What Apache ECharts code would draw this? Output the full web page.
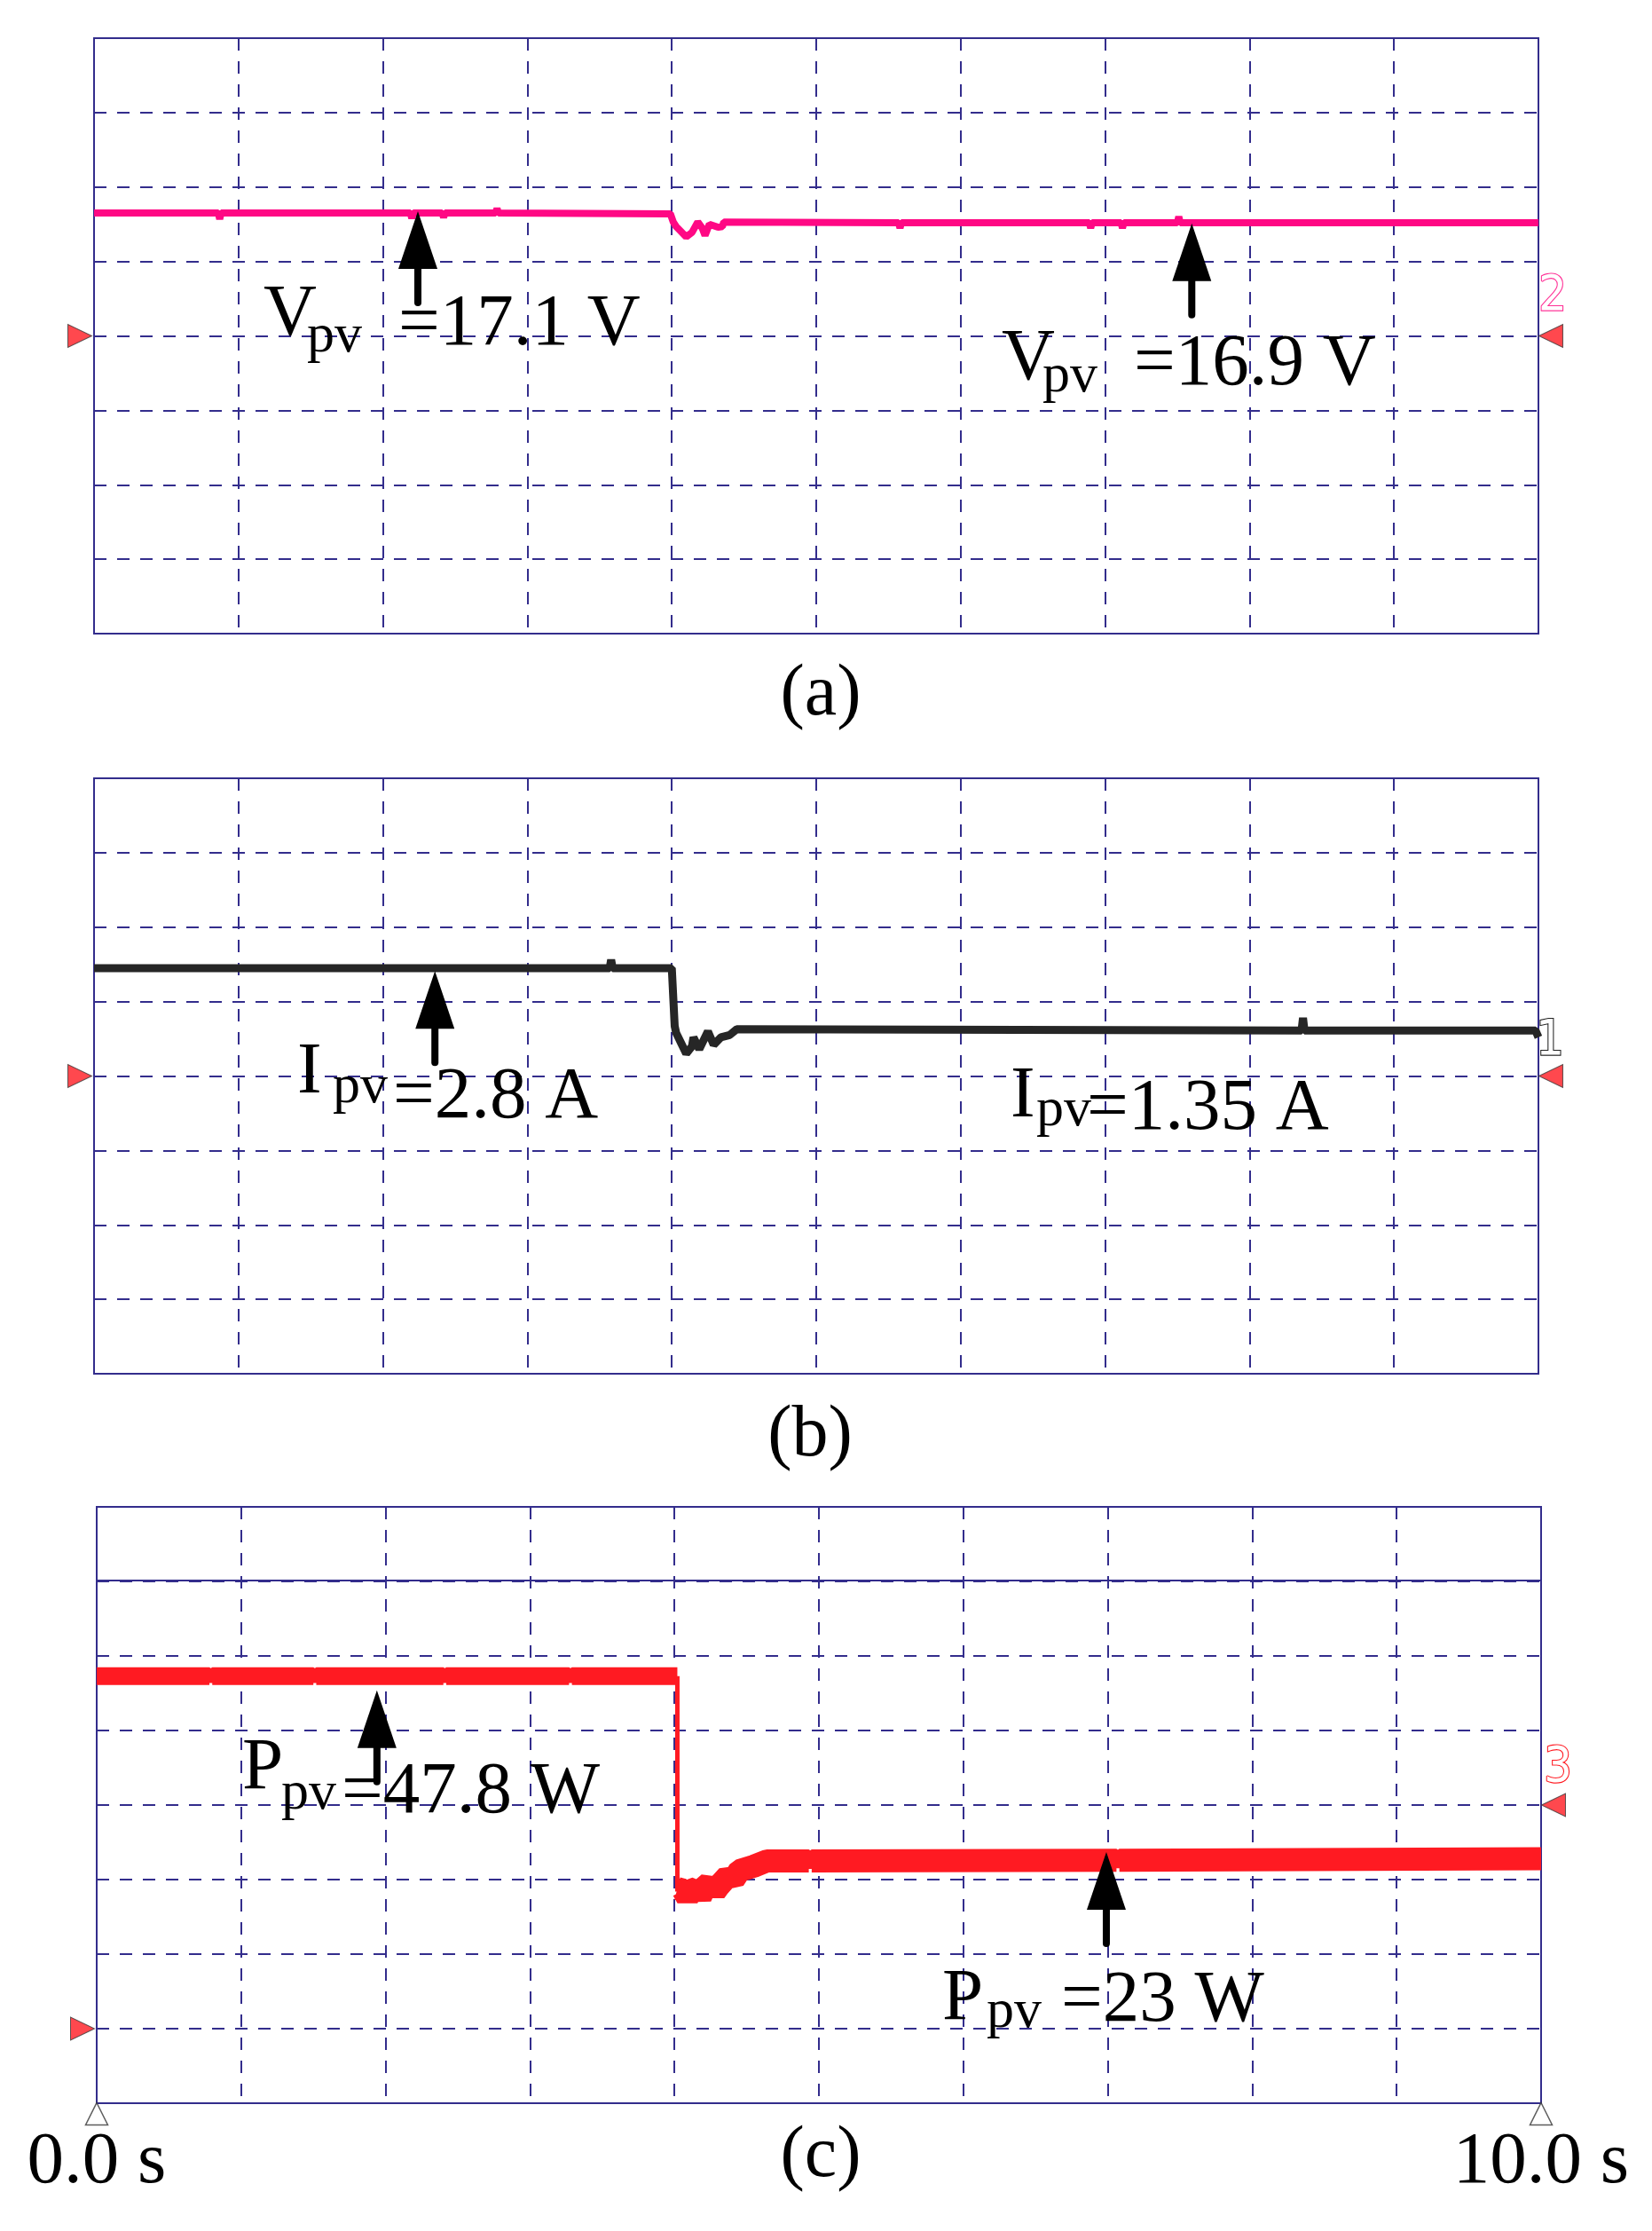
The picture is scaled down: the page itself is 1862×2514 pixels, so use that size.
<!DOCTYPE html>
<html>
<head>
    <meta charset="utf-8">
    <title>PV step response</title>
    <script src="https://cdn.jsdelivr.net/npm/echarts/dist/echarts.min.js"></script>
    <style>
        html, body { margin: 0; padding: 0; background: #fff; }
        #chart { width: 1862px; height: 2514px; }
    </style>
</head>
<body>
<div id="chart"></div>
<script type="text/javascript">
    // time axis labels (10 divisions, 1 s / div)
    var timeLabels = ['0.0 s', '10.0 s'];

    // (a) Vpv trace, time in s, level in screen divisions (0..8)
    var vTime = [0, 0.86, 0.87, 0.88, 2.19, 2.2, 2.21, 2.41, 2.42, 2.43, 2.78, 2.79, 2.8,
        3.99, 4.0, 4.01, 4.03, 4.06, 4.1, 4.14, 4.18, 4.21, 4.23, 4.26, 4.32, 4.35, 4.36,
        5.57, 5.58, 5.59, 6.89, 6.9, 6.91, 7.11, 7.12, 7.13, 7.5, 7.51, 7.52, 10];
    var vDiv = [5.65, 5.65, 5.57, 5.65, 5.65, 5.58, 5.65, 5.65, 5.59, 5.65, 5.65, 5.71, 5.65,
        5.64, 5.62, 5.53, 5.47, 5.41, 5.33, 5.39, 5.53, 5.45, 5.35, 5.5, 5.46, 5.47, 5.53,
        5.52, 5.45, 5.52, 5.52, 5.45, 5.52, 5.52, 5.45, 5.52, 5.52, 5.6, 5.52, 5.52];

    // (b) Ipv trace
    var iTime = [0, 3.57, 3.58, 3.59, 4.0, 4.01, 4.02, 4.03, 4.07, 4.1, 4.14, 4.15, 4.19,
        4.25, 4.29, 4.34, 4.4, 4.45, 8.36, 8.37, 8.38, 9.98, 10];
    var iDiv = [5.45, 5.45, 5.56, 5.45, 5.45, 5.47, 4.67, 4.58, 4.42, 4.3, 4.4, 4.52, 4.36,
        4.6, 4.42, 4.52, 4.55, 4.63, 4.61, 4.78, 4.61, 4.61, 4.52];

    // (c) Ppv trace: before the step, the step edge, after the step
    var pTimeA = [0, 0.78, 0.79, 0.8, 1.5, 1.51, 1.52, 2.4, 2.41, 2.42, 3.27, 3.28, 3.29, 4.02];
    var pDivA = [5.73, 5.73, 5.68, 5.73, 5.73, 5.68, 5.73, 5.73, 5.68, 5.73, 5.73, 5.68, 5.73, 5.73];
    var pStepTime = [4.02, 4.02];
    var pStepDiv = [5.73, 2.84];
    var pTimeB = [4.02, 4.06, 4.09, 4.12, 4.15, 4.18, 4.21, 4.24, 4.28, 4.31, 4.37, 4.41,
        4.45, 4.55, 4.64, 4.93, 4.94, 4.95, 7.06, 7.07, 7.08, 10];
    var pDivB = [2.88, 2.86, 2.76, 2.86, 2.88, 2.77, 2.9, 2.95, 2.84, 2.92, 3.05, 3.0,
        3.12, 3.18, 3.25, 3.25, 3.2, 3.25, 3.26, 3.2, 3.26, 3.28];
    var pRefLine = 7.02;

    // channel ground markers (divisions)
    var refLeft = [4, 4, 1];
    var refRight = [4, 4, 4];

    // arrow tips [time, div] per panel
    var arrows = [
        [[2.242, 5.675], [7.6, 5.51]],
        [[2.36, 5.41]],
        [[1.94, 5.54], [6.99, 3.37]]
    ];

    // annotation pieces: text, time, baseline div, font px
    var notes = [
        [['V', 1.173, 3.958, 83], ['pv', 1.474, 3.744, 62], ['=17.1 V', 2.107, 3.827, 83],
         ['V', 6.284, 3.362, 83], ['pv', 6.566, 3.207, 62], ['=16.9 V', 7.199, 3.291, 83]],
        [['I', 1.407, 3.72, 83], ['pv', 1.652, 3.601, 62], ['=2.8 A', 2.07, 3.386, 83],
         ['I', 6.345, 3.398, 83], ['pv', 6.523, 3.291, 62], ['=1.35 A', 6.873, 3.231, 83]],
        [['P', 1.007, 4.167, 83], ['pv', 1.278, 3.905, 62], ['=47.8 W', 1.695, 3.845, 83],
         ['P', 5.854, 1.071, 83], ['pv', 6.161, 0.976, 62], ['=23 W', 6.677, 1.048, 83]]
    ];
    // channel numbers beside the right marker
    var chanLabels = [['2', 10.098, 4.52, '#ff2f95'], ['1', 10.08, 4.47, '#222222'], ['3', 10.117, 4.5, '#ff1a22']];
    var captions = ['(a)', '(b)', '(c)'];

    var GRID = '#332d8c';
    var SERIF = "'Liberation Serif', 'Times New Roman', serif";
    var grids = [
        {left: 106, top: 43, width: 1628, height: 671},
        {left: 106, top: 877, width: 1628, height: 671},
        {left: 109, top: 1698, width: 1628, height: 672}
    ];

    function zip(a, b) {
        return a.map(function (t, i) { return [t, b[i]]; });
    }

    function trace(idx, data, color, width, extra) {
        var s = {
            type: 'line', xAxisIndex: idx, yAxisIndex: idx, data: data,
            showSymbol: false, symbol: 'none', silent: true, z: 3,
            lineStyle: {color: color, width: width}
        };
        for (var k in extra || {}) s[k] = extra[k];
        return s;
    }

    function arrowSeries(idx) {
        return {
            type: 'custom', xAxisIndex: idx, yAxisIndex: idx, silent: true, z: 5,
            data: arrows[idx],
            renderItem: function (params, api) {
                var p = api.coord([api.value(0), api.value(1)]);
                return {
                    type: 'group',
                    children: [
                        {type: 'line', shape: {x1: p[0], y1: p[1] + 55, x2: p[0], y2: p[1] + 103},
                            style: {stroke: '#000', lineWidth: 8, lineCap: 'round'}},
                        {type: 'polygon', shape: {points: [[p[0], p[1]], [p[0] - 22, p[1] + 65], [p[0] + 22, p[1] + 65]]},
                            style: {fill: '#000'}}
                    ]
                };
            }
        };
    }

    function noteSeries(idx) {
        var items = notes[idx];
        var ch = chanLabels[idx];
        return {
            type: 'custom', xAxisIndex: idx, yAxisIndex: idx, silent: true, z: 6,
            data: items.map(function (a) { return [a[1], a[2]]; }).concat([[ch[1], ch[2]]]),
            renderItem: function (params, api) {
                var p = api.coord([api.value(0), api.value(1)]);
                if (params.dataIndex === items.length) {
                    return {
                        type: 'text', x: p[0], y: p[1],
                        style: {
                            text: ch[0], font: "56px 'DejaVu Sans Condensed', 'DejaVu Sans', sans-serif",
                            fill: '#ffffff', stroke: ch[3], lineWidth: 2.2,
                            textAlign: 'center', textVerticalAlign: 'middle', align: 'center', verticalAlign: 'middle'
                        }
                    };
                }
                var a = items[params.dataIndex];
                return {
                    type: 'text', x: p[0], y: p[1] - 0.32 * a[3],
                    style: {
                        text: a[0], font: a[3] + 'px ' + SERIF, fill: '#000',
                        textAlign: 'left', textVerticalAlign: 'middle', align: 'left', verticalAlign: 'middle'
                    }
                };
            }
        };
    }

    function markerSeries(idx) {
        var red = {color: '#ff1a22', borderColor: '#3a3a3a', borderWidth: 1};
        var data = [
            {value: [0, refLeft[idx]], symbolRotate: -90, symbolOffset: [-16, 0], itemStyle: red},
            {value: [10, refRight[idx]], symbolRotate: 90, symbolOffset: [14, 0], itemStyle: red}
        ];
        if (idx === 2) {
            var hollow = {color: '#ffffff', borderColor: '#333333', borderWidth: 1.5};
            data.push({value: [0, 0], symbolSize: [25, 25], symbolOffset: [0, 12], itemStyle: hollow});
            data.push({value: [10, 0], symbolSize: [25, 25], symbolOffset: [0, 12], itemStyle: hollow});
        }
        return {
            type: 'scatter', xAxisIndex: idx, yAxisIndex: idx, symbol: 'triangle',
            symbolSize: [26, 27], clip: false, silent: true, z: 7, data: data
        };
    }

    var xAxes = [], yAxes = [];
    grids.forEach(function (g, i) {
        g.show = true;
        g.borderColor = GRID;
        g.borderWidth = 2;
        g.backgroundColor = 'transparent';
        xAxes.push({
            type: 'value', gridIndex: i, min: 0, max: 10, interval: 1,
            axisLine: {show: false}, axisTick: {show: false},
            axisLabel: {
                show: i === 2, margin: 26, color: '#000', fontSize: 83, fontFamily: SERIF,
                showMinLabel: true, showMaxLabel: true,
                formatter: function (v) { return v === 0 ? timeLabels[0] : (v === 10 ? timeLabels[1] : ''); }
            },
            splitLine: {show: true, lineStyle: {color: GRID, width: 2, type: [14, 12]}}
        });
        yAxes.push({
            type: 'value', gridIndex: i, min: 0, max: 8, interval: 1,
            axisLine: {show: false}, axisTick: {show: false}, axisLabel: {show: false},
            splitLine: {show: true, lineStyle: {color: GRID, width: 2, type: [14, 12]}}
        });
    });

    var series = [
        trace(0, zip(vTime, vDiv), '#ff0884', 8),
        trace(1, zip(iTime, iDiv), '#262626', 9),
        trace(2, zip(pTimeA, pDivA), '#ff1a22', 20, {
            markLine: {
                silent: true, symbol: ['none', 'none'], label: {show: false},
                lineStyle: {color: GRID, width: 2, type: 'solid'},
                data: [{yAxis: pRefLine}]
            }
        }),
        trace(2, zip(pStepTime, pStepDiv), '#ff1a22', 5),
        trace(2, zip(pTimeB, pDivB), '#ff1a22', 26)
    ];
    [0, 1, 2].forEach(function (i) {
        series.push(arrowSeries(i));
        series.push(noteSeries(i));
        series.push(markerSeries(i));
    });

    // panel captions under each plot
    var capPos = [[925, 810], [913, 1645], [925, 2457]];
    var graphic = captions.map(function (c, i) {
        return {
            type: 'text', x: capPos[i][0], y: capPos[i][1] - 0.32 * 82,
            style: {
                text: c, font: '82px ' + SERIF, fill: '#000',
                textAlign: 'center', textVerticalAlign: 'middle', align: 'center', verticalAlign: 'middle'
            }
        };
    });

    var myChart = echarts.init(document.getElementById('chart'));
    myChart.setOption({
        animation: false,
        backgroundColor: '#ffffff',
        grid: grids,
        xAxis: xAxes,
        yAxis: yAxes,
        series: series,
        graphic: graphic
    });
</script>
</body>
</html>
